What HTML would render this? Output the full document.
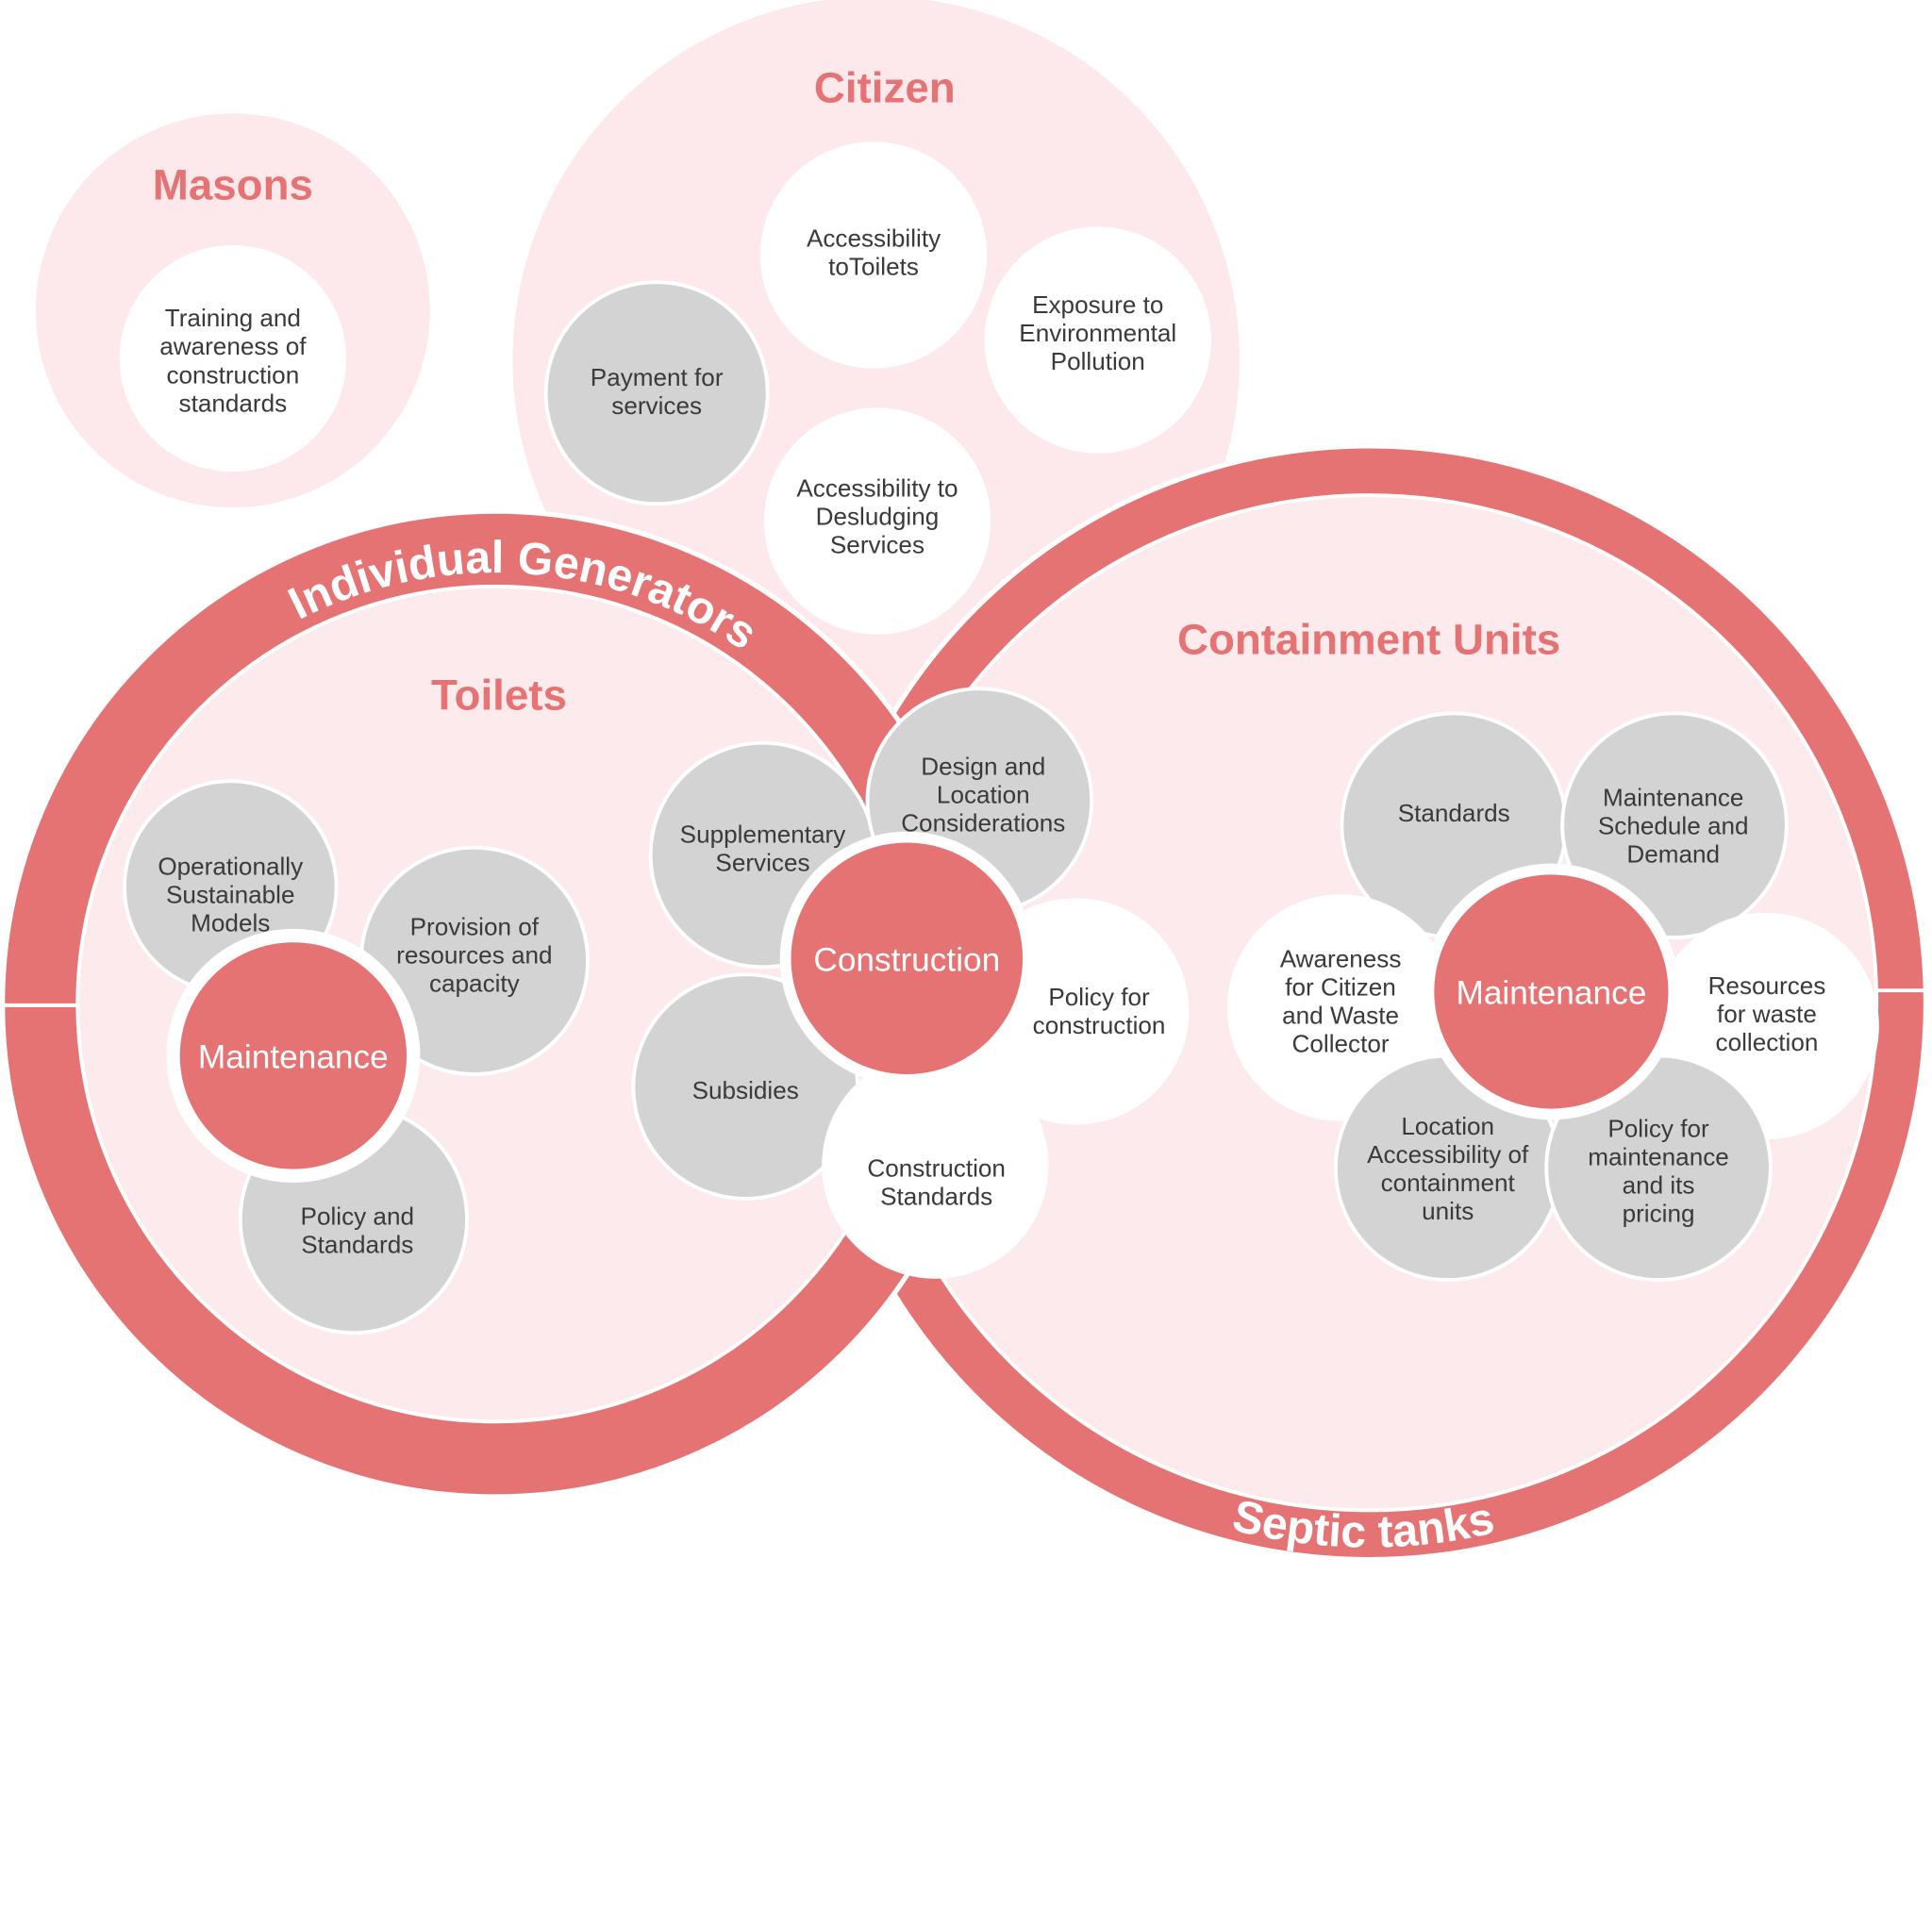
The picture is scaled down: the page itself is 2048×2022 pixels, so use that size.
<!DOCTYPE html>
<html><head><meta charset="utf-8"><style>
html,body{margin:0;padding:0;background:#fff}
svg{display:block}
text{font-family:"Liberation Sans",sans-serif}
.n{font-size:20px;fill:#3a3a3a;text-anchor:middle}
.t{font-size:35px;font-weight:bold;fill:#e57373;text-anchor:middle}
.w{font-size:27px;fill:#fff;text-anchor:middle}
.g{fill:#d3d3d3;stroke:#fff;stroke-width:3}
.h{fill:#fff}
</style></head><body>
<svg width="2048" height="2022" viewBox="0 0 1568 1548" xmlns="http://www.w3.org/2000/svg">
<!-- Masons -->
<circle cx="189" cy="252" r="160" fill="#fde9ec"/>
<text class="t" x="189" y="162" font-size="32">Masons</text>
<circle class="h" cx="189" cy="291" r="92"/>
<text class="n"><tspan x="189" y="265">Training and</tspan><tspan x="189" y="288">awareness of</tspan><tspan x="189" y="311">construction</tspan><tspan x="189" y="334">standards</tspan></text>
<!-- Citizen -->
<circle cx="711" cy="292" r="295" fill="#fde9ec"/>
<text class="t" x="718" y="83">Citizen</text>
<circle class="h" cx="709" cy="207" r="92"/>
<text class="n"><tspan x="709" y="200">Accessibility</tspan><tspan x="709" y="223">toToilets</tspan></text>
<circle class="h" cx="891" cy="276" r="92"/>
<text class="n"><tspan x="891" y="254">Exposure to</tspan><tspan x="891" y="277">Environmental</tspan><tspan x="891" y="300">Pollution</tspan></text>
<circle class="g" cx="533" cy="319" r="90"/>
<text class="n"><tspan x="533" y="313">Payment for</tspan><tspan x="533" y="336">services</tspan></text>
<circle class="h" cx="712" cy="423" r="92"/>
<text class="n"><tspan x="712" y="403">Accessibility to</tspan><tspan x="712" y="426">Desludging</tspan><tspan x="712" y="449">Services</tspan></text>
<!-- Septic ring -->
<circle cx="1111" cy="814" r="452" fill="#e57373" stroke="#fff" stroke-width="4"/>
<!-- IG ring -->
<circle cx="402" cy="815" r="400" fill="#e57373" stroke="#fff" stroke-width="4"/>
<line x1="0" y1="816" x2="70" y2="816" stroke="#fff" stroke-width="3"/>
<line x1="1515" y1="804" x2="1568" y2="804" stroke="#fff" stroke-width="3"/>
<circle cx="402" cy="815" r="339" fill="#fdeaec" stroke="#fff" stroke-width="3"/>
<circle cx="1111" cy="814" r="412" fill="#fdeaec" stroke="#fff" stroke-width="3"/>
<!-- curved labels -->
<path id="igp" d="M 57.3 754.2 A 350 350 0 0 1 751.8 802.8" fill="none"/>
<text font-size="37" font-weight="bold" fill="#fff" text-anchor="middle"><textPath href="#igp" startOffset="50%">Individual Generators</textPath></text>
<path id="stp" d="M 728.2 1035 A 442 442 0 0 0 1493.8 1035" fill="none"/>
<text font-size="37" font-weight="bold" fill="#fff" text-anchor="middle"><textPath href="#stp" startOffset="49.5%">Septic tanks</textPath></text>
<text class="t" x="405" y="576">Toilets</text>
<text class="t" x="1111" y="531">Containment Units</text>
<!-- Toilets -->
<circle class="g" cx="187" cy="720" r="86"/>
<text class="n"><tspan x="187" y="710">Operationally</tspan><tspan x="187" y="733">Sustainable</tspan><tspan x="187" y="756">Models</tspan></text>
<circle class="g" cx="385" cy="780" r="92"/>
<text class="n"><tspan x="385" y="759">Provision of</tspan><tspan x="385" y="782">resources and</tspan><tspan x="385" y="805">capacity</tspan></text>
<circle class="g" cx="287" cy="990" r="92"/>
<text class="n"><tspan x="290" y="994">Policy and</tspan><tspan x="290" y="1017">Standards</tspan></text>
<circle cx="238" cy="857" r="103" fill="#fff"/>
<circle cx="238" cy="857" r="92" fill="#e57373"/>
<text class="w" x="238" y="867">Maintenance</text>
<circle class="g" cx="619" cy="694" r="91"/>
<text class="n"><tspan x="619" y="684">Supplementary</tspan><tspan x="619" y="707">Services</tspan></text>
<circle class="g" cx="605" cy="882" r="91"/>
<text class="n" x="605" y="892">Subsidies</text>
<circle class="g" cx="795" cy="650" r="91"/>
<text class="n"><tspan x="798" y="629">Design and</tspan><tspan x="798" y="652">Location</tspan><tspan x="798" y="675">Considerations</tspan></text>
<circle class="h" cx="873" cy="821" r="92"/>
<text class="n"><tspan x="892" y="816">Policy for</tspan><tspan x="892" y="839">construction</tspan></text>
<circle class="h" cx="759" cy="946" r="92"/>
<text class="n"><tspan x="760" y="955">Construction</tspan><tspan x="760" y="978">Standards</tspan></text>
<circle cx="736" cy="778" r="103" fill="#fff"/>
<circle cx="736" cy="778" r="94" fill="#e57373"/>
<text class="w" x="736" y="788">Construction</text>
<!-- Containment -->
<circle class="g" cx="1180" cy="670" r="91"/>
<text class="n" x="1180" y="667">Standards</text>
<circle class="g" cx="1359" cy="670" r="91"/>
<text class="n"><tspan x="1358" y="654">Maintenance</tspan><tspan x="1358" y="677">Schedule and</tspan><tspan x="1358" y="700">Demand</tspan></text>
<circle class="h" cx="1088" cy="818" r="92"/>
<text class="n"><tspan x="1088" y="785">Awareness</tspan><tspan x="1088" y="808">for Citizen</tspan><tspan x="1088" y="831">and Waste</tspan><tspan x="1088" y="854">Collector</tspan></text>
<circle class="h" cx="1433" cy="833" r="92"/>
<text class="n"><tspan x="1434" y="807">Resources</tspan><tspan x="1434" y="830">for waste</tspan><tspan x="1434" y="853">collection</tspan></text>
<circle class="g" cx="1175" cy="948" r="91"/>
<text class="n"><tspan x="1175" y="921">Location</tspan><tspan x="1175" y="944">Accessibility of</tspan><tspan x="1175" y="967">containment</tspan><tspan x="1175" y="990">units</tspan></text>
<circle class="g" cx="1346" cy="948" r="91"/>
<text class="n"><tspan x="1346" y="923">Policy for</tspan><tspan x="1346" y="946">maintenance</tspan><tspan x="1346" y="969">and its</tspan><tspan x="1346" y="992">pricing</tspan></text>
<circle cx="1259" cy="805" r="104" fill="#fff"/>
<circle cx="1259" cy="805" r="95" fill="#e57373"/>
<text class="w" x="1259" y="815">Maintenance</text>
</svg>
</body></html>
